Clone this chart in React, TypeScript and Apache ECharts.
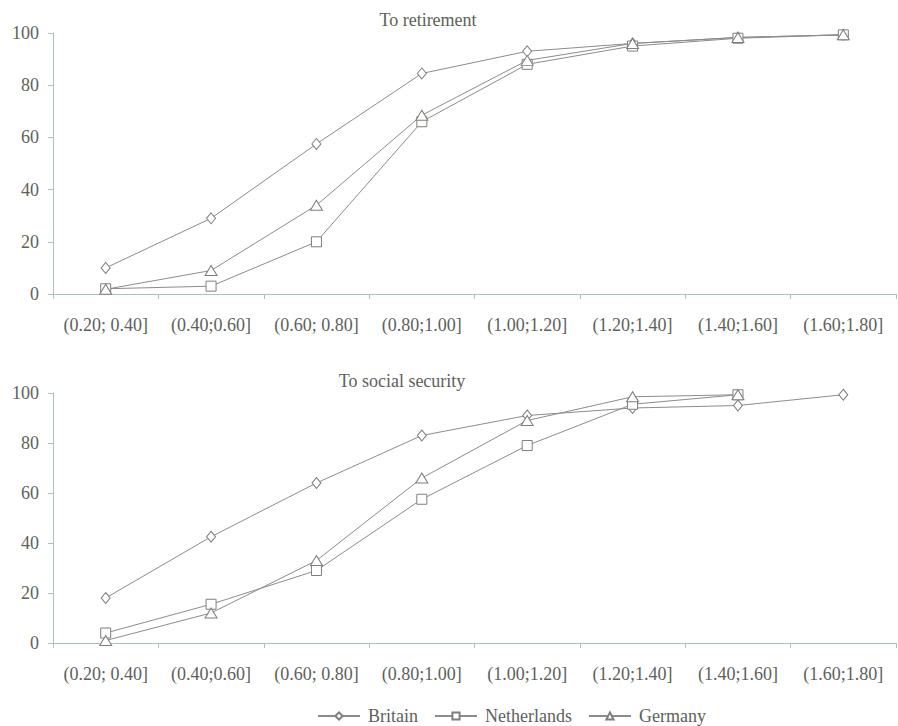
import React, { useEffect, useRef } from "react";
import * as echarts from "echarts";

const categories = [
  "(0.20; 0.40]",
  "(0.40;0.60]",
  "(0.60; 0.80]",
  "(0.80;1.00]",
  "(1.00;1.20]",
  "(1.20;1.40]",
  "(1.40;1.60]",
  "(1.60;1.80]",
];

const retirementBritain = [10, 29, 57.5, 84.5, 93, 96, 98.3, 99.3];
const retirementNetherlands = [2, 3, 20, 66, 88, 95, 98, 99.3];
const retirementGermany = [1.8, 9, 34, 68.5, 89.5, 96, 98.3, 99.3];

const socialBritain = [18, 42.5, 64, 83, 91, 94, 95, 99.3];
const socialNetherlands = [4, 15.5, 29, 57.5, 79, 95.5, 99.3, null];
const socialGermany = [1, 12, 33, 66, 89, 98.5, 99.3, null];

const yTicks = [0, 20, 40, 60, 80, 100];

const titles = ["To retirement", "To social security"];
const seriesNames = ["Britain", "Netherlands", "Germany"];

const FONT = "'Liberation Serif', 'DejaVu Serif', serif";
const TEXT = "#5c625a";
const AXIS = "#a9c3b8";
const LINE = "#8a8d88";

export default function App() {
  const ref = useRef<HTMLDivElement>(null);
  useEffect(() => {
    if (!ref.current) return;
    const chart = echarts.init(ref.current, undefined, { renderer: "svg" });
    const symbols: [string, number[]][] = [
      ["diamond", [9, 11]],
      ["rect", [10, 10]],
      ["triangle", [12, 10]],
    ];
    const grids = [
      { left: 53, right: 2, top: 33, height: 261 },
      { left: 53, right: 2, top: 393, height: 250 },
    ];
    const xAxis = grids.map((_, i) => ({
      type: "category",
      gridIndex: i,
      data: categories,
      boundaryGap: true,
      axisLine: { show: true, lineStyle: { color: AXIS, width: 1 } },
      axisTick: { show: true, length: 5, lineStyle: { color: AXIS } },
      axisLabel: { color: TEXT, fontFamily: FONT, fontSize: 18, margin: 22, interval: 0 },
      splitLine: { show: false },
    }));
    const yAxis = grids.map((_, i) => ({
      type: "value",
      gridIndex: i,
      min: yTicks[0],
      max: yTicks[yTicks.length - 1],
      interval: yTicks[1] - yTicks[0],
      axisLine: { show: true, lineStyle: { color: AXIS, width: 1 } },
      axisTick: { show: true, length: 5, lineStyle: { color: AXIS } },
      axisLabel: { color: TEXT, fontFamily: FONT, fontSize: 18, margin: 14 },
      splitLine: { show: false },
    }));
    const data = [
      [retirementBritain, retirementNetherlands, retirementGermany],
      [socialBritain, socialNetherlands, socialGermany],
    ];
    const series: any[] = [];
    data.forEach((group, gi) => {
      group.forEach((vals, si) => {
        series.push({
          name: seriesNames[si],
          type: "line",
          xAxisIndex: gi,
          yAxisIndex: gi,
          data: vals,
          symbol: symbols[si][0],
          symbolSize: symbols[si][1],
          showAllSymbol: true,
          connectNulls: false,
          lineStyle: { color: LINE, width: 1 },
          itemStyle: { color: "#ffffff", borderColor: "#7c807a", borderWidth: 1 },
          emphasis: { disabled: true },
        });
      });
    });
    chart.setOption({
      animation: false,
      backgroundColor: "#ffffff",
      grid: grids,
      xAxis,
      yAxis,
      series,
      legend: {
        data: seriesNames,
        left: 312,
        top: 702,
        itemWidth: 42,
        itemHeight: 9,
        itemGap: 16,
        textStyle: { color: TEXT, fontFamily: FONT, fontSize: 18, padding: [0, 0, 0, 3] },
      },
      graphic: [
        {
          type: "text",
          x: 428,
          y: 20,
          style: {
            text: titles[0],
            fill: TEXT,
            font: `18px ${FONT}`,
            textAlign: "center",
            textVerticalAlign: "middle",
          },
        },
        {
          type: "text",
          x: 402,
          y: 381,
          style: {
            text: titles[1],
            fill: TEXT,
            font: `18px ${FONT}`,
            textAlign: "center",
            textVerticalAlign: "middle",
          },
        },
      ],
    });
    return () => chart.dispose();
  }, []);
  return <div ref={ref} style={{ width: 898, height: 726, position: "absolute", left: 0, top: 0 }} />;
}
